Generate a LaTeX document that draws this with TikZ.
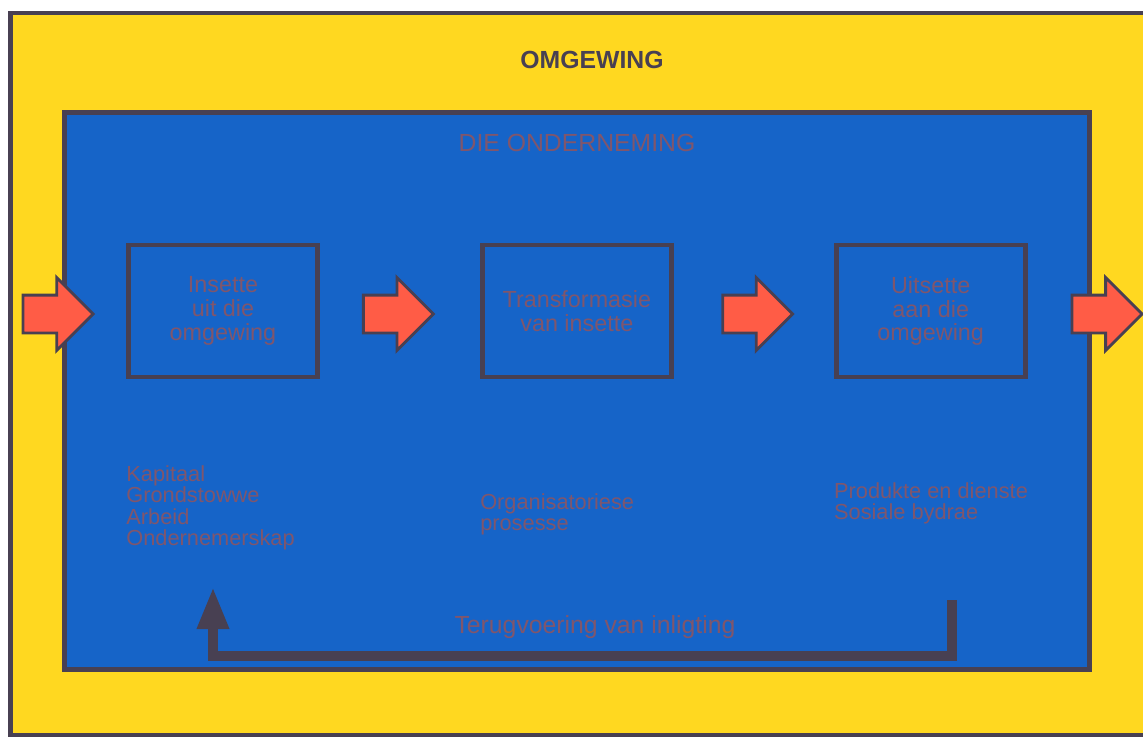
\documentclass[tikz,border=0pt]{standalone}
\usepackage{fontspec}
\setmainfont{Liberation Sans}
\usetikzlibrary{calc,arrows.meta,positioning,shapes.arrows}
\definecolor{envyellow}{RGB}{255,216,32}
\definecolor{firmblue}{RGB}{22,100,200}
\definecolor{frameline}{RGB}{72,64,82}
\definecolor{labeltext}{RGB}{128,86,108}
\definecolor{flowred}{RGB}{255,92,70}
\tikzset{
  envframe/.style={draw=frameline, line width=2.6pt, fill=envyellow, inner sep=0pt,
    minimum width=22.83cm, minimum height=14.45cm},
  firmframe/.style={draw=frameline, line width=2.8pt, fill=firmblue, inner sep=0pt,
    minimum width=20.5cm, minimum height=11.14cm},
  stagebox/.style={draw=frameline, line width=2.8pt, align=center, text=labeltext,
    minimum width=3.78cm, minimum height=2.64cm, font=\fontsize{13.3}{13.6}\selectfont},
  itemlist/.style={align=left, inner sep=0pt, text=labeltext,
    font=\fontsize{12.4}{12.3}\selectfont},
  flowarrow/.style={single arrow, draw=frameline, line width=1.6pt, fill=flowred,
    minimum height=1.4cm, minimum width=1.4cm, single arrow head extend=0.35cm,
    inner xsep=0pt, inner ysep=0.35cm, yshift=-0.06cm},
  feedback/.style={draw=frameline, line width=5.7pt, -{Triangle[length=24pt,width=17pt]}},
  headline/.style={inner sep=0pt, font=\fontsize{14.1}{16}\selectfont}
}

\begin{document}
\begin{tikzpicture}[x=0.02cm, y=-0.02cm]
  \useasboundingbox (0,0) rectangle (1143,738);

  \node[envframe] (env) at (581,374) {};
  \node[firmframe] (firm) at (577,391) {};
  \node[headline, text=frameline, below=0.81cm of env.north, xshift=0.22cm] (envtitle) {\textbf{OMGEWING}};
  \node[headline, text=labeltext, below=0.47cm of firm.north] (firmtitle) {DIE ONDERNEMING};

  \node[stagebox] (input) at (223,311) {Insette\\uit die\\omgewing};
  \node[stagebox, right=3.2cm of input] (transform) {Transformasie\\van insette};
  \node[stagebox, right=3.2cm of transform] (output) {Uitsette\\aan die\\omgewing};

  \node[flowarrow, left=0.62cm of input] (inflow) {};
  \node[flowarrow, right=0.84cm of input] (flow1) {};
  \node[flowarrow, right=0.95cm of transform] (flow2) {};
  \node[flowarrow, right=0.86cm of output] (outflow) {};

  \node[itemlist, below right=1.71cm and 0cm of input.south west] (inputlist)
    {Kapitaal\\Grondstowwe\\Arbeid\\Ondernemerskap};
  \node[itemlist, below right=2.27cm and 0cm of transform.south west] (transformlist)
    {Organisatoriese\\prosesse};
  \node[itemlist, below right=2.05cm and 0cm of output.south west] (outputlist)
    {Produkte en dienste\\Sosiale bydrae};

  \coordinate (fbstart) at (952,600);
  \coordinate (fbend) at (213,587);
  \draw[feedback] (fbstart) -- ++(0,56) coordinate (fbcorner) -- (fbcorner -| fbend)
    node[midway, headline, text=labeltext, above=6.8pt, xshift=0.25cm] (fblabel) {Terugvoering van inligting}
    -- (fbend);
\end{tikzpicture}
\end{document}
